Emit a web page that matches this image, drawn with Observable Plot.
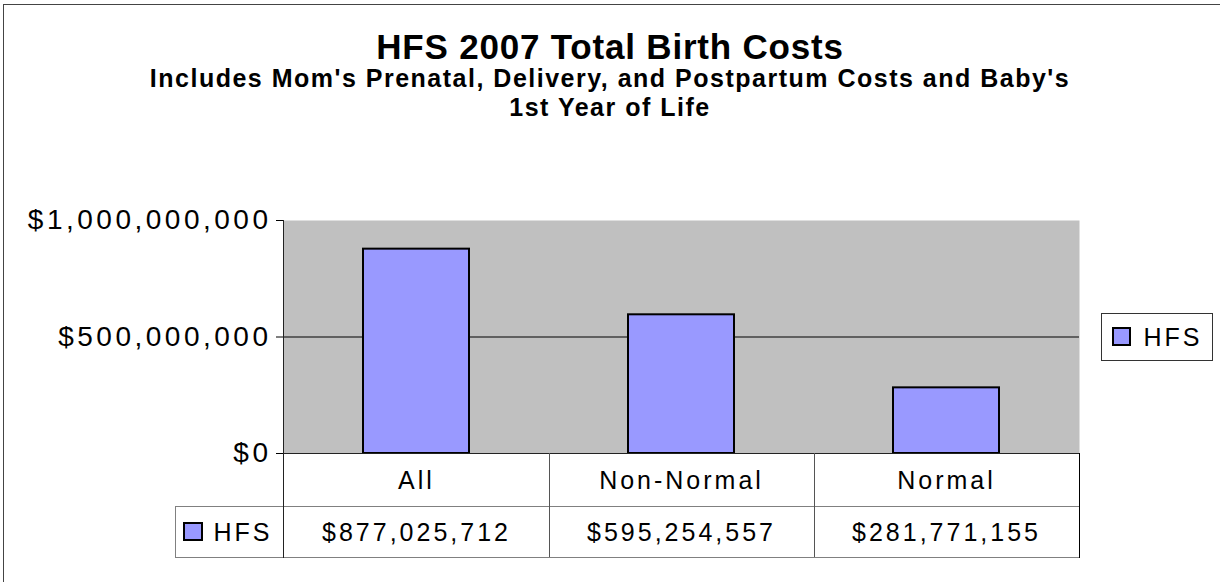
<!DOCTYPE html>
<html><head><meta charset="utf-8">
<script src="https://cdn.jsdelivr.net/npm/d3@7"></script>
<script src="https://cdn.jsdelivr.net/npm/@observablehq/plot@0.6"></script>
<style>
body{margin:0;background:#fff;font-family:Arial,"Liberation Sans",sans-serif;}
#wrap{position:relative;width:1220px;height:582px;overflow:hidden;background:#fff;}
#border{position:absolute;left:3px;top:4px;width:1300px;height:700px;border-top:1px solid #444;border-left:1px solid #444;}
.t{position:absolute;left:0;width:1220px;text-align:center;font-weight:bold;color:#000;white-space:nowrap;}
#chart{position:absolute;left:0;top:0;}
</style></head><body>
<div id="wrap">
<div id="border"></div>
<div class="t" id="title" style="top:29px;height:35px;font-size:35px;line-height:35px;letter-spacing:0.8px;">HFS 2007 Total Birth Costs</div>
<div class="t" id="sub1" style="top:65px;height:27px;font-size:25px;line-height:27px;letter-spacing:1.5px;">Includes Mom's Prenatal, Delivery, and Postpartum Costs and Baby's</div>
<div class="t" id="sub2" style="top:94px;height:27px;font-size:25px;line-height:27px;letter-spacing:1.5px;">1st Year of Life</div>
<div id="chart"></div>
</div>
<script>
const categories = ["All", "Non-Normal", "Normal"];
const values = [877025712, 595254557, 281771155];
const seriesName = "HFS";
const yTicks = [0, 500000000, 1000000000];
const gridTicks = [500000000];

const fmt = d3.format("$,.0f");
const data = categories.map((c, i) => ({category: c, value: values[i]}));
const FONT = 'Arial, "Liberation Sans", sans-serif';
const BAR = "#9999ff";

const plot = Plot.plot({
  width: 1220, height: 582,
  marginLeft: 283, marginRight: 141, marginTop: 220, marginBottom: 129,
  style: {fontFamily: FONT, color: "#000", background: "transparent", overflow: "visible"},
  x: {domain: categories, paddingInner: 0.6, paddingOuter: 0.3, axis: null},
  y: {domain: [0, 1000000000], axis: null, label: null},
  marks: [
    Plot.frame({fill: "#c0c0c0", stroke: null}),
    Plot.gridY(gridTicks, {stroke: "#000", strokeOpacity: 1}),
    Plot.barY(data, {x: "category", y: "value", fill: BAR, stroke: "#000", strokeWidth: 2}),
    Plot.axisY(yTicks, {tickFormat: fmt, tickSize: 7, tickPadding: 5, fontSize: 28, label: null, stroke: "#000", strokeOpacity: 1}),
    Plot.text(data, {x: "category", text: "category", frameAnchor: "bottom", dy: 27, fontSize: 25, lineAnchor: "middle"}),
    Plot.text(data, {x: "category", text: d => fmt(d.value), frameAnchor: "bottom", dy: 79, fontSize: 25, lineAnchor: "middle"})
  ]
});
document.getElementById("chart").appendChild(plot);

const svg = d3.select(plot);
svg.selectAll('[aria-label="y-axis tick label"] text').attr("letter-spacing", "3.5px");
svg.selectAll('[aria-label="text"] text').attr("letter-spacing", "3px");

const xs = plot.scale("x"), ys = plot.scale("y");
const step = xs.step, bw = xs.bandwidth;
const cellLeft = c => xs.apply(c) - (step - bw) / 2;
const xL = cellLeft(categories[0]);
const xR = cellLeft(categories[categories.length - 1]) + step;
const yZero = ys.apply(0), yTop = ys.apply(1000000000), yMid = ys.apply(500000000);
const rowH = 52;
const yRow1 = yZero + rowH + 1, yRow2 = yZero + 2 * rowH;
const legColL = xL - 109;
const g = svg.append("g").attr("shape-rendering", "crispEdges");
function line(x1, y1, x2, y2, color) {
  g.append("line").attr("x1", x1).attr("y1", y1).attr("x2", x2).attr("y2", y2)
   .attr("stroke", color).attr("stroke-width", 1);
}
line(legColL, yRow1 + 0.5, xR, yRow1 + 0.5, "#808080");
line(legColL, yRow2 + 0.5, xR, yRow2 + 0.5, "#808080");
line(xL, yZero + 0.5, xR, yZero + 0.5, "#222");
categories.forEach((c, i) => { if (i > 0) line(cellLeft(c) + 0.5, yZero, cellLeft(c) + 0.5, yRow2, "#555"); });
line(xR + 0.5, yZero, xR + 0.5, yRow2 + 1, "#000");
line(legColL + 0.5, yRow1, legColL + 0.5, yRow2 + 1, "#808080");
line(xL - 0.5, yTop, xL - 0.5, yRow2 + 1, "#222");

// legend key in table
g.append("rect").attr("x", legColL + 9.5).attr("y", (yRow1 + yRow2) / 2 - 8.5).attr("width", 18).attr("height", 17)
  .attr("fill", BAR).attr("stroke", "#000").attr("stroke-width", 2);
svg.append("text").attr("x", legColL + 39).attr("y", (yRow1 + yRow2) / 2 + 9).attr("text-anchor", "start")
  .attr("font-family", FONT).attr("font-size", 25).attr("letter-spacing", "3px").attr("fill", "#000").text(seriesName);

// legend box on the right
const lgX = xR + 22, lgY = yMid - 24;
g.append("rect").attr("x", lgX + 0.5).attr("y", lgY + 0.5).attr("width", 111).attr("height", 47)
  .attr("fill", "#fff").attr("stroke", "#333");
g.append("rect").attr("x", lgX + 12.5).attr("y", yMid - 8.5).attr("width", 17).attr("height", 17)
  .attr("fill", BAR).attr("stroke", "#000").attr("stroke-width", 2);
svg.append("text").attr("x", lgX + 43).attr("y", yMid + 9).attr("text-anchor", "start")
  .attr("font-family", FONT).attr("font-size", 25).attr("letter-spacing", "3px").attr("fill", "#000").text(seriesName);
</script>
</body></html>
